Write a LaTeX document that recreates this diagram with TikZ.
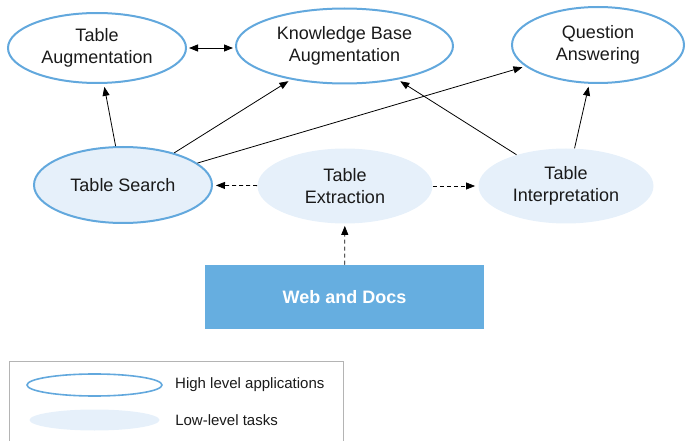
\documentclass[tikz,border=0pt]{standalone}
\usepackage{fontspec}
\setmainfont{Liberation Sans}
\usetikzlibrary{arrows.meta, positioning, shapes.geometric}

\definecolor{appblue}{HTML}{62A8DD}
\definecolor{taskblue}{HTML}{E6F0FA}
\definecolor{docblue}{HTML}{66AEE0}
\definecolor{framegray}{HTML}{B4B4B4}
\definecolor{inkdark}{HTML}{1A1A1A}

\tikzset{
  highapp/.style={ellipse, draw=appblue, line width=2pt, align=center, inner sep=0pt,
    text=inkdark, font=\fontsize{18}{22}\selectfont},
  lowtask/.style={ellipse, fill=taskblue, align=center, inner sep=0pt,
    text=inkdark, font=\fontsize{18}{22}\selectfont},
  legtext/.style={inner sep=0pt, anchor=west, text=inkdark, font=\fontsize{15}{18}\selectfont}
}

\begin{document}
\begin{tikzpicture}[x=1pt, y=-1pt, >={Triangle[length=9pt, width=7pt]}, thick]
    \useasboundingbox (0,0) rectangle (686,441);

    % Nodes
    \node[highapp, minimum width=178pt, minimum height=70pt] (TA) at (97,48) {Table\\Augmentation};
    \node[highapp, minimum width=217pt, minimum height=75pt] (KB) at (344.5,46) {Knowledge Base\\Augmentation};
    \node[highapp, minimum width=172pt, minimum height=76pt] (QA) at (598,45) {Question\\Answering};
    \node[highapp, fill=taskblue, minimum width=178pt, minimum height=76pt] (TS) at (123,185) {Table Search};
    \node[lowtask, minimum width=175pt, minimum height=75pt] (TE) at (345,186) {Table\\Extraction};
    \node[lowtask, minimum width=175pt, minimum height=75pt] (TI) at (566,186) {Table\\Interpretation};
    \node[rectangle, fill=docblue, minimum width=279pt, minimum height=64pt, text=white,
      font=\fontsize{18}{22}\selectfont\bfseries] (WD) at (344.5,297) {Web and Docs};

    % Directed edges
    \draw[->, shorten >=3pt] (TS) -- (TA);
    \draw[->, shorten >=3pt] (TS) -- (KB);
    \draw[->, shorten >=3pt] (TS) -- (QA);
    \draw[->, shorten >=3pt] (TI) -- (KB);
    \draw[->, shorten >=3pt] (TI) -- (QA);
    \draw[<->, shorten >=2pt, shorten <=2pt] (TA.east) -- (TA.east -| KB.west);

    % Dashed edges
    \draw[->, dash pattern=on 4pt off 3pt, shorten >=3pt] (TE) -- (TS);
    \draw[->, dash pattern=on 4pt off 3pt, shorten >=3pt] (TE) -- (TI);
    \draw[->, dash pattern=on 4pt off 3pt, shorten >=2pt] (WD) -- (TE);

    % Legend
    \draw[framegray, line width=0.8pt] (9,441) -- (9,361) -- (343,361) -- (343,441);
    \node[highapp, line width=1.6pt, minimum width=135pt, minimum height=22pt] (legHigh) at (94.5,385) {};
    \node[lowtask, minimum width=130pt, minimum height=21pt] (legLow) at (94.5,420) {};
    \node[legtext, right=12pt of legHigh] (legHighText) {High level applications};
    \node[legtext, right=15pt of legLow] (legLowText) {Low-level tasks};
\end{tikzpicture}
\end{document}
